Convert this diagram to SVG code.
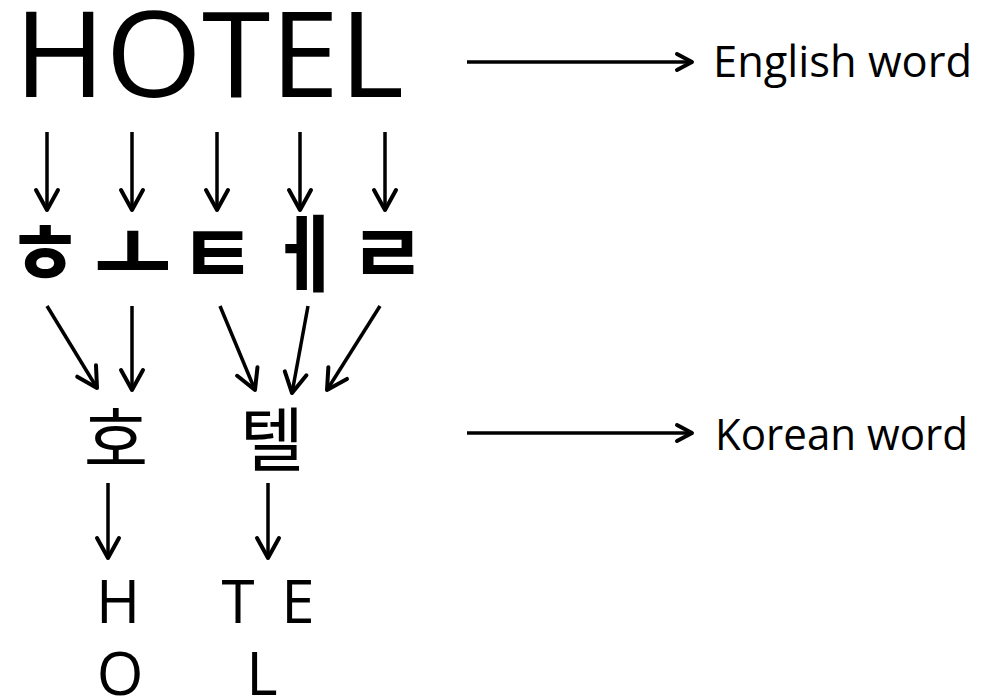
<svg xmlns="http://www.w3.org/2000/svg" width="1000" height="698" viewBox="0 0 1000 698">
<style>
.lat{font-family:"Open Sans","Noto Sans","Liberation Sans",sans-serif;fill:#000}
.kr{font-family:"Noto Sans CJK KR","Noto Sans",sans-serif;fill:#000}
.jamo{font-weight:bold;font-size:84px;text-anchor:middle}
.syl{font-size:70px;text-anchor:middle}
.ar{stroke:#000;stroke-width:3.5;fill:none;marker-end:url(#ah)}
.arh{stroke:#000;stroke-width:3.5;fill:none;marker-end:url(#ahs)}
</style>
<defs>
<marker id="ah" markerUnits="userSpaceOnUse" markerWidth="40" markerHeight="40" refX="0" refY="0" orient="auto" viewBox="-30 -20 40 40" overflow="visible">
<path d="M-20,-11 L0,0 L-20,11" fill="none" stroke="#000" stroke-width="4" stroke-linecap="round" stroke-linejoin="round"/>
</marker>
<marker id="ahs" markerUnits="userSpaceOnUse" markerWidth="40" markerHeight="40" refX="0" refY="0" orient="auto" viewBox="-30 -20 40 40" overflow="visible">
<path d="M-15,-8 L0,0 L-15,8" fill="none" stroke="#000" stroke-width="4" stroke-linecap="round" stroke-linejoin="round"/>
</marker>
</defs>
<rect width="1000" height="698" fill="#fff"/>
<g id="english-word">
<text class="lat" x="14" y="97" font-size="119" textLength="390" lengthAdjust="spacingAndGlyphs">HOTEL</text>
</g>
<g id="jamo">
<text class="kr jamo" x="45" y="285">ㅎ</text>
<text class="kr jamo" x="133" y="285">ㅗ</text>
<text class="kr jamo" x="218" y="285">ㅌ</text>
<text class="kr jamo" x="305" y="285">ㅔ</text>
<text class="kr jamo" x="388" y="285">ㄹ</text>
</g>
<g id="korean-word">
<text class="kr syl" x="116" y="466">호</text>
<text class="kr syl" x="272" y="466">텔</text>
</g>
<g id="romanization">
<text class="lat" x="118" y="623" font-size="60" text-anchor="middle">H</text>
<text class="lat" x="238" y="623" font-size="60" text-anchor="middle">T</text>
<text class="lat" x="298" y="623" font-size="60" text-anchor="middle">E</text>
<text class="lat" x="120" y="695" font-size="60" text-anchor="middle">O</text>
<text class="lat" x="262" y="695" font-size="60" text-anchor="middle">L</text>
</g>
<g id="label-english">
<text class="lat" x="713" y="77" font-size="44" textLength="259" lengthAdjust="spacingAndGlyphs">English word</text>
</g>
<g id="label-korean">
<text class="lat" x="715" y="450" font-size="44" textLength="253" lengthAdjust="spacingAndGlyphs">Korean word</text>
</g>
<g id="connectors">
<line class="ar" x1="47" y1="132" x2="47" y2="210"/>
<line class="ar" x1="132" y1="132" x2="132" y2="210"/>
<line class="ar" x1="217" y1="132" x2="217" y2="210"/>
<line class="ar" x1="300" y1="132" x2="300" y2="210"/>
<line class="ar" x1="385" y1="132" x2="385" y2="210"/>
<line class="ar" x1="47" y1="306" x2="97" y2="388"/>
<line class="ar" x1="132" y1="306" x2="132" y2="390"/>
<line class="ar" x1="220" y1="306" x2="255" y2="390"/>
<line class="ar" x1="308" y1="306" x2="292" y2="393"/>
<line class="ar" x1="380" y1="306" x2="327" y2="390"/>
<line class="ar" x1="108" y1="483" x2="108" y2="558"/>
<line class="ar" x1="268" y1="483" x2="268" y2="558"/>
<line class="arh" x1="467" y1="62" x2="692" y2="62"/>
<line class="arh" x1="467" y1="433" x2="692" y2="433"/>
</g>
</svg>
